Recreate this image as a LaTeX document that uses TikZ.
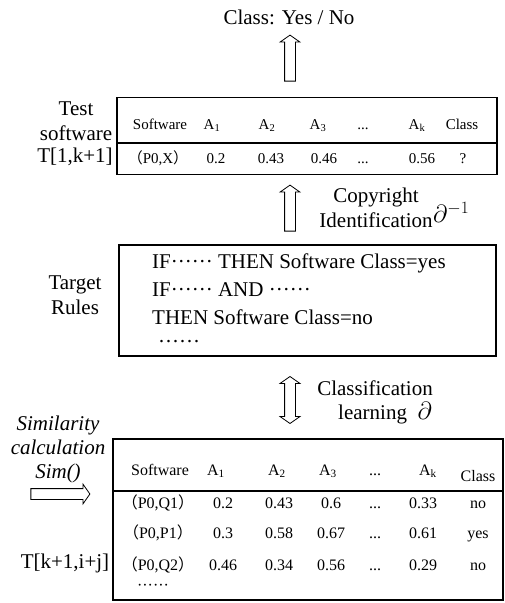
\documentclass[tikz,border=0pt]{standalone}
\usepackage{fontspec}
\setmainfont{Liberation Serif}
\newfontfamily\cjk{Noto Sans CJK SC}
\usetikzlibrary{shapes.arrows}
\newcommand{\fw}[1]{{\cjk （}#1{\cjk ）}}
\newcommand{\dotrow}{······}
\newcommand{\gap}{...}

\tikzset{
  tbox/.style={draw, line width=1.4pt, inner sep=0},
  upar/.style={single arrow, draw, line width=0.8pt, shape border rotate=90,
    minimum height=46, single arrow head extend=4.5,
    single arrow tip angle=110, inner sep=5pt},
  bothar/.style={double arrow, draw, line width=0.8pt, shape border rotate=90,
    minimum height=47, double arrow head extend=4.5,
    double arrow tip angle=110, inner sep=5pt},
  rightar/.style={single arrow, draw, line width=0.8pt,
    minimum height=59, single arrow head extend=4.5,
    single arrow tip angle=110, inner sep=5pt},
  lbl/.style={align=center, inner sep=0},
  cell/.style={inner sep=0, anchor=base, font=\fontsize{15}{17}\selectfont},
  bcell/.style={inner sep=0, anchor=base, font=\fontsize{16}{18}\selectfont}
}

\begin{document}
\begin{tikzpicture}[x=1pt, y=-1pt, font=\fontsize{21}{25}\selectfont]
    \useasboundingbox (0,0) rectangle (505,603);

    \node[lbl] (out) at (289,17) {Class: Yes / No};
    \node[upar] (a1) at (290,60) {};

    % test software table
    \node[tbox, minimum width=380, minimum height=77] (test) at (307,136) {};
    \draw[line width=1.2pt] (test.west |- 0,143) -- (test.east |- 0,143);
    \foreach \x/\t in {160/Software, 212/A\textsubscript{1}, 267/A\textsubscript{2},
        318/A\textsubscript{3}, 363/\gap, 417/A\textsubscript{k}, 462/Class}
        \node[cell] at (\x,129) {\t};
    \foreach \x/\t in {158/\fw{P0,X}, 216/0.2, 271/0.43, 324/0.46, 363/\gap, 422/0.56, 463/?}
        \node[cell] at (\x,163) {\t};
    \node[lbl] (tl) at (76,121) {Test\\software};
    \node[lbl] (tk) at (75,157) {T[1,k+1]};

    \node[upar] (a2) at (290,210) {};
    \node[lbl] (cid) at (376,208) {Copyright\\Identification};
    \node[lbl, anchor=west, font=\fontsize{25}{27}\selectfont] (pinv) at (433,212) {$\partial^{-1}$};

    % rules
    \node[tbox, minimum width=377, minimum height=111] (rules) at (307.5,300.5) {};
    \node[lbl, anchor=west] (r1) at (152,263) {IF\dotrow{} THEN Software Class=yes};
    \node[lbl, anchor=west] (r2) at (152,290) {IF\dotrow{} AND \dotrow};
    \node[lbl, anchor=west] (r3) at (152,317) {THEN Software Class=no};
    \node[lbl, anchor=west] (r4) at (158,344) {\dotrow};
    \node[lbl] (tr) at (75,295) {Target\\Rules};

    \node[bothar] (a3) at (290,400) {};
    \node[lbl] (clf) at (375,388) {Classification};
    \node[lbl] (lrn) at (385,413) {learning\enspace{\fontsize{25}{27}\selectfont$\partial$}};

    % training table
    \node[lbl, font=\fontsize{21}{24}\selectfont\itshape] (sim) at (58,449) {Similarity\\calculation\\Sim()};
    \node[rightar] (a4) at (58.5,494) {};
    \node[tbox, minimum width=390, minimum height=161] (train) at (308,519.5) {};
    \draw[line width=1.2pt] (train.west |- 0,491) -- (train.east |- 0,491);
    \foreach \x/\t in {160/Software, 216/A\textsubscript{1}, 277/A\textsubscript{2},
        328/A\textsubscript{3}, 375/\gap, 428/A\textsubscript{k}}
        \node[bcell] at (\x,475) {\t};
    \node[bcell] at (478,481) {Class};
    \foreach \y/\s/\a/\b/\c/\d/\k in {508/\fw{P0,Q1}/0.2/0.43/0.6/0.33/no,
        538/\fw{P0,P1}/0.3/0.58/0.67/0.61/yes, 570/\fw{P0,Q2}/0.46/0.34/0.56/0.29/no}{
        \node[bcell] at (158,\y) {\s};
        \node[bcell] at (223,\y) {\a};
        \node[bcell] at (279,\y) {\b};
        \node[bcell] at (331,\y) {\c};
        \node[bcell] at (375,\y) {\gap};
        \node[bcell] at (423,\y) {\d};
        \node[bcell] at (478,\y) {\k};
    }
    \node[bcell] at (153,590) {\dotrow};
    \node[lbl] (tij) at (65,563) {T[k+1,i+j]};
\end{tikzpicture}
\end{document}
